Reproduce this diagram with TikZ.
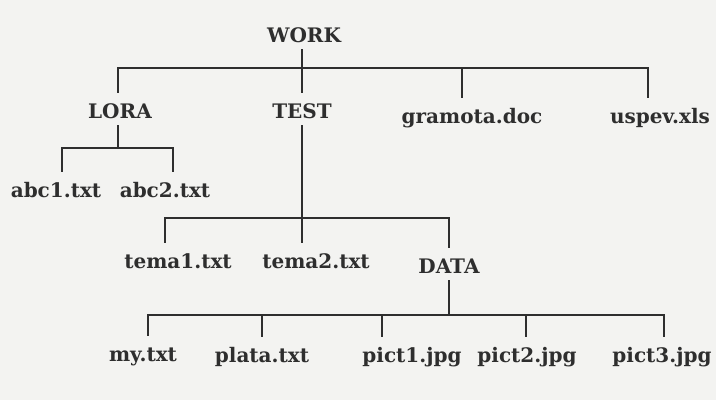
\documentclass[tikz,border=0pt]{standalone}
\usepackage{fontspec}
\setmainfont{DejaVu Serif}
\definecolor{ink}{HTML}{2E2E2E}
\definecolor{bg}{HTML}{F3F3F1}
\begin{document}
\begin{tikzpicture}[x=1pt,y=-1pt,
  lbl/.style={anchor=base, inner sep=0pt, text height=25pt, text depth=7pt,
    font=\fontsize{20}{20}\selectfont\bfseries, text=ink},
  conn/.style={draw=ink, line width=1.8pt}]
\fill[bg] (0,0) rectangle (716,400);
\useasboundingbox (0,0) rectangle (716,400);
% nodes
\node[lbl] (work) at (304,42) {WORK};
\node[lbl] (lora) at (120,118) {LORA};
\node[lbl] (test) at (302,118) {TEST};
\node[lbl] (gram) at (472,123) {gramota.doc};
\node[lbl] (uspev) at (660,123) {uspev.xls};
\node[lbl] (abc1) at (56,197) {abc1.txt};
\node[lbl] (abc2) at (165,197) {abc2.txt};
\node[lbl] (tema1) at (178,268) {tema1.txt};
\node[lbl] (tema2) at (316,268) {tema2.txt};
\node[lbl] (data) at (449,273) {DATA};
\node[lbl] (my) at (143,361) {my.txt};
\node[lbl] (plata) at (262,362) {plata.txt};
\node[lbl] (pict1) at (412,362) {pict1.jpg};
\node[lbl] (pict2) at (527,362) {pict2.jpg};
\node[lbl] (pict3) at (662,362) {pict3.jpg};
% bar levels
\coordinate (wbar) at (0,68);
\coordinate (lbar) at (0,148);
\coordinate (tbar) at (0,218);
\coordinate (dbar) at (0,315);
% drop points
\coordinate (lorad) at ([xshift=-2pt]lora.north);
\coordinate (gramd) at ([xshift=-10pt]gram.north);
\coordinate (uspevd) at ([xshift=-12pt]uspev.north);
\coordinate (abc1d) at ([xshift=6pt]abc1.north);
\coordinate (abc2d) at ([xshift=8pt]abc2.north);
\coordinate (tema1d) at ([xshift=-13pt]tema1.north);
\coordinate (tema2d) at ([xshift=-14pt]tema2.north);
\coordinate (datad) at (data.north);
\coordinate (myd) at ([xshift=5pt]my.north);
\coordinate (platad) at (plata.north);
\coordinate (pict1d) at ([xshift=-30pt]pict1.north);
\coordinate (pict2d) at ([xshift=-1pt]pict2.north);
\coordinate (pict3d) at ([xshift=2pt]pict3.north);
% connectors
\draw[conn] (work.south -| test) -- (test.north);
\draw[conn] (lorad) |- (uspevd |- wbar) -- (uspevd);
\draw[conn] (gramd) -- (gramd |- wbar);
\draw[conn] (lora.south -| lorad) -- (lorad |- lbar);
\draw[conn] (abc1d) |- (abc2d |- lbar) -- (abc2d);
\draw[conn] (test.south) -- (tema2d);
\draw[conn] (tema1d) |- (datad |- tbar) -- (datad);
\draw[conn] (data.south) -- (data.south |- dbar);
\draw[conn] (myd) |- (pict3d |- dbar) -- (pict3d);
\draw[conn] (platad) -- (platad |- dbar);
\draw[conn] (pict1d) -- (pict1d |- dbar);
\draw[conn] (pict2d) -- (pict2d |- dbar);
\end{tikzpicture}
\end{document}
